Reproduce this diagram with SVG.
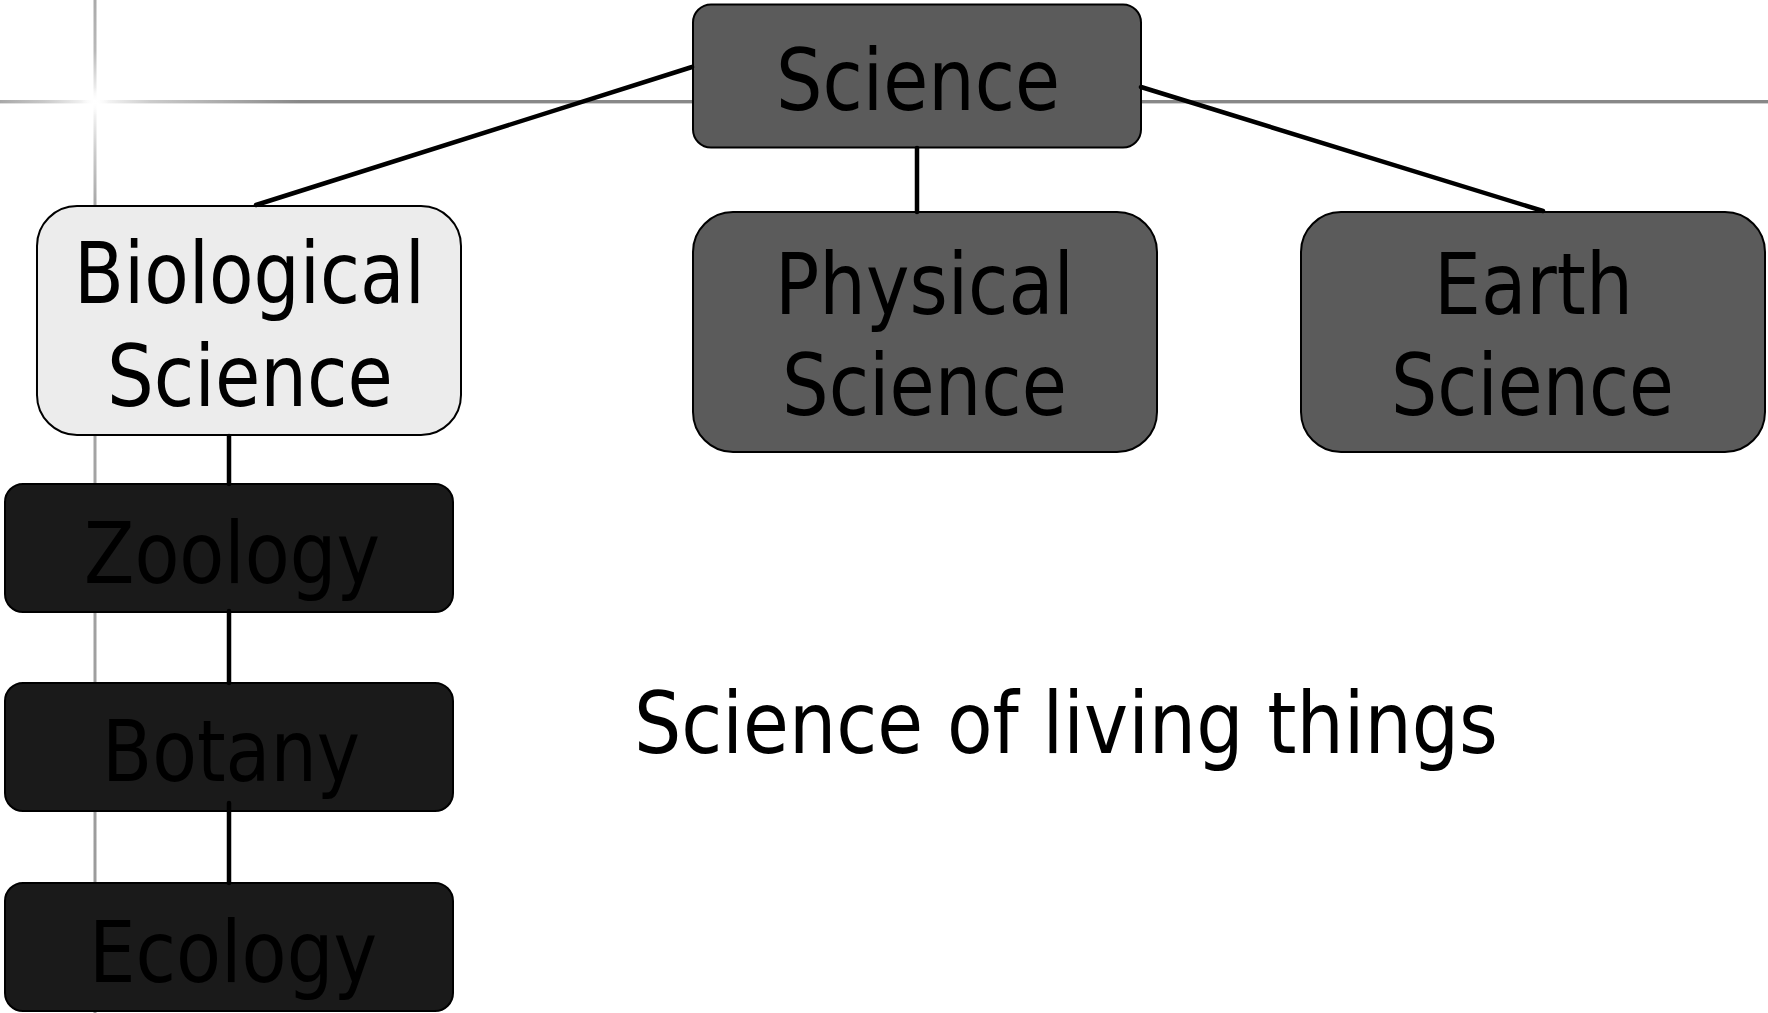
<svg xmlns="http://www.w3.org/2000/svg" width="1768" height="1013" viewBox="0 0 1768 1013">
<defs>
<linearGradient id="gh" gradientUnits="userSpaceOnUse" x1="0" y1="0" x2="1768" y2="0">
<stop offset="0" stop-color="#a8a8a8"/>
<stop offset="0.025" stop-color="#c8c8c8"/>
<stop offset="0.0537" stop-color="#ffffff"/>
<stop offset="0.085" stop-color="#cccccc"/>
<stop offset="0.17" stop-color="#888888"/>
<stop offset="1" stop-color="#888888"/>
</linearGradient>
<linearGradient id="gv" gradientUnits="userSpaceOnUse" x1="0" y1="0" x2="0" y2="1013">
<stop offset="0" stop-color="#aaaaaa"/>
<stop offset="0.05" stop-color="#b8b8b8"/>
<stop offset="0.1" stop-color="#ffffff"/>
<stop offset="0.15" stop-color="#cccccc"/>
<stop offset="0.2" stop-color="#a8a8a8"/>
<stop offset="1" stop-color="#999999"/>
</linearGradient>
<radialGradient id="glow" cx="95" cy="101.7" r="14" gradientUnits="userSpaceOnUse">
<stop offset="0" stop-color="#ffffff" stop-opacity="1"/>
<stop offset="1" stop-color="#ffffff" stop-opacity="0"/>
</radialGradient>
</defs>
<style>
.t{font-family:"DejaVu Sans","Liberation Sans",sans-serif;font-size:86px;fill:#000;}
.mid{fill:#5b5b5b;stroke:#000;stroke-width:2;}
.light{fill:#ececec;stroke:#000;stroke-width:2;}
.dark{fill:#1a1a1a;stroke:#000;stroke-width:2;}
.c{stroke:#000;stroke-width:4.5;fill:none;stroke-linecap:round;}
</style>
<rect x="0" y="0" width="1768" height="1013" fill="#ffffff"/>
<g id="grid">
<rect x="0" y="100" width="1768" height="3.4" fill="url(#gh)"/>
<rect x="93.5" y="0" width="3" height="1013" fill="url(#gv)"/>
<circle cx="95" cy="101.7" r="14" fill="url(#glow)"/>
</g>
<g id="node-science">
<rect class="mid" x="693" y="4.5" width="448" height="143" rx="18"/>
<text class="t" x="776" y="110" textLength="284" lengthAdjust="spacingAndGlyphs">Science</text>
</g>
<g id="node-biological">
<rect class="light" x="37" y="206" width="424" height="229" rx="40"/>
<text class="t" x="74" y="303" textLength="351" lengthAdjust="spacingAndGlyphs">Biological</text>
<text class="t" x="107" y="406" textLength="286" lengthAdjust="spacingAndGlyphs">Science</text>
</g>
<g id="node-physical">
<rect class="mid" x="693" y="212" width="464" height="240" rx="40"/>
<text class="t" x="775" y="314" textLength="299" lengthAdjust="spacingAndGlyphs">Physical</text>
<text class="t" x="782" y="415" textLength="285" lengthAdjust="spacingAndGlyphs">Science</text>
</g>
<g id="node-earth">
<rect class="mid" x="1301" y="212" width="464" height="240" rx="40"/>
<text class="t" x="1434" y="314" textLength="199" lengthAdjust="spacingAndGlyphs">Earth</text>
<text class="t" x="1391" y="415" textLength="283" lengthAdjust="spacingAndGlyphs">Science</text>
</g>
<g id="node-zoology">
<rect class="dark" x="5" y="484" width="448" height="128" rx="18"/>
<text class="t" x="84" y="583" textLength="296" lengthAdjust="spacingAndGlyphs">Zoology</text>
</g>
<g id="node-botany">
<rect class="dark" x="5" y="683" width="448" height="128" rx="18"/>
<text class="t" x="102" y="781" textLength="258" lengthAdjust="spacingAndGlyphs">Botany</text>
</g>
<g id="node-ecology">
<rect class="dark" x="5" y="883" width="448" height="128" rx="18"/>
<text class="t" x="89" y="982" textLength="288" lengthAdjust="spacingAndGlyphs">Ecology</text>
</g>
<g id="connectors">
<line class="c" x1="692" y1="67" x2="256" y2="205"/>
<line class="c" x1="917" y1="148" x2="917" y2="212"/>
<line class="c" x1="1141" y1="87" x2="1543" y2="211"/>
<line class="c" x1="229" y1="436" x2="229" y2="484"/>
<line class="c" x1="229" y1="611" x2="229" y2="683"/>
<line class="c" x1="229" y1="803" x2="229" y2="883"/>
</g>
<text id="caption" class="t" x="634" y="753" textLength="864" lengthAdjust="spacingAndGlyphs">Science of living things</text>
</svg>
